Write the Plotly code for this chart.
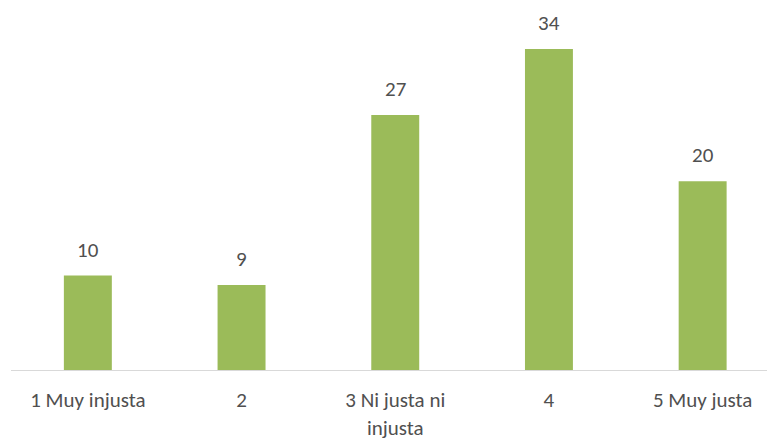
import plotly.graph_objects as go

categories = ["1 Muy injusta", "2", "3 Ni justa ni<br>injusta", "4", "5 Muy justa"]
values = [10, 9, 27, 34, 20]

FONT = "Carlito, Calibri, Lato, sans-serif"
TXT = "#505050"

fig = go.Figure()
fig.add_trace(go.Bar(
    x=list(range(len(categories))), y=values,
    marker=dict(color="#9BBB59", line=dict(width=0)),
    width=0.312,
))
for i, v in enumerate(values):
    fig.add_annotation(x=i, y=v, text=str(v), showarrow=False,
                       yanchor="middle", yshift=26,
                       font=dict(family=FONT, size=21, color=TXT))

fig.update_layout(
    width=767, height=439,
    margin=dict(l=11, r=0, t=16, b=69, autoexpand=False),
    paper_bgcolor="white", plot_bgcolor="white",
    showlegend=False,
    xaxis=dict(
        range=[-0.5, 4.4187], automargin=False,
        tickmode="array", tickvals=list(range(len(categories))), ticktext=categories,
        showgrid=False, zeroline=False,
        showline=True, linecolor="#D9D9D9", linewidth=1,
        ticks="", ticklabelstandoff=11,
        tickfont=dict(family=FONT, size=21, color=TXT),
    ),
    yaxis=dict(range=[0, 37.5], visible=False, automargin=False),
)
fig.write_html("out.html")
